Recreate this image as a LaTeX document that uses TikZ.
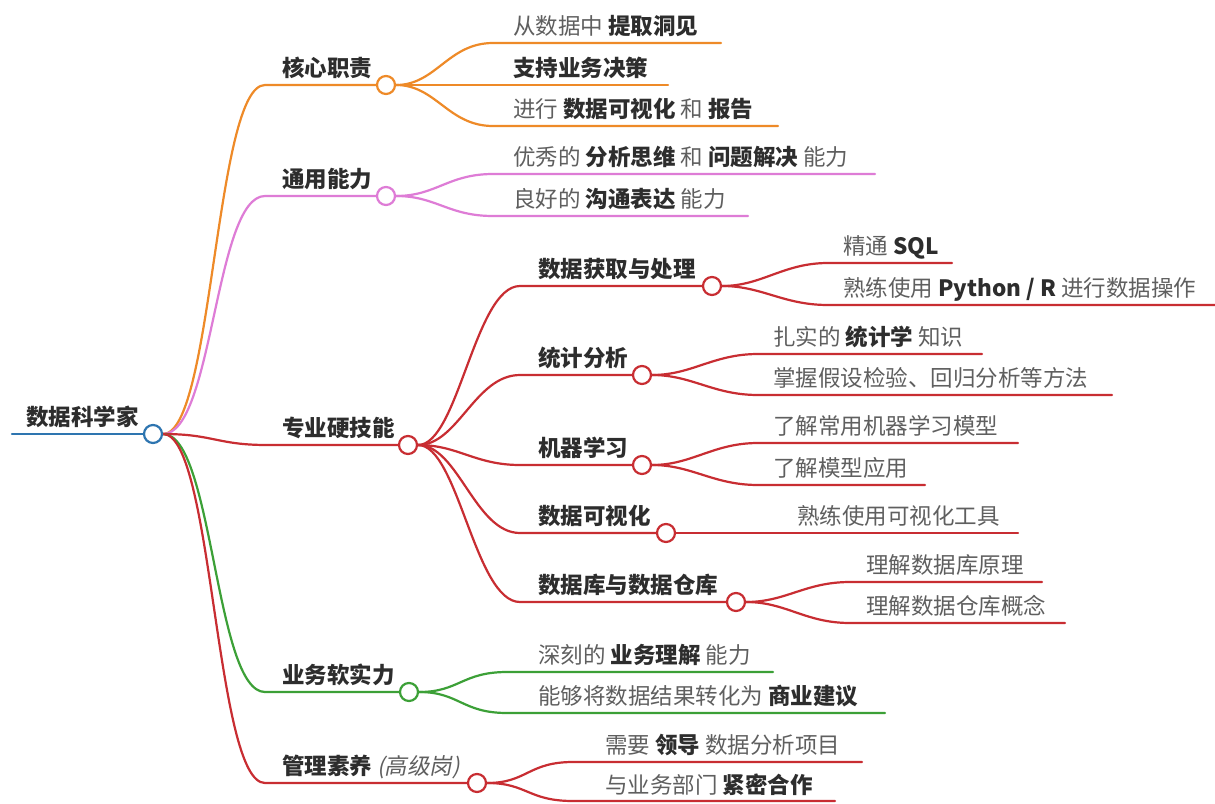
\documentclass[tikz,border=0pt]{standalone}
\usepackage{fontspec}
\setmainfont{Noto Sans CJK SC}
\newfontfamily\slantf{Noto Sans CJK SC}[FakeSlant=0.2]
\usetikzlibrary{backgrounds}
\definecolor{cblue}{RGB}{46,117,176}
\definecolor{corange}{RGB}{238,138,40}
\definecolor{cpink}{RGB}{222,124,214}
\definecolor{cred}{RGB}{200,45,50}
\definecolor{cgreen}{RGB}{60,160,55}
\definecolor{cdark}{RGB}{45,45,45}
\definecolor{cnorm}{RGB}{95,95,95}
\newcommand\strongtxt[1]{{\bfseries\color{cdark}#1}}
\tikzset{
  lbl/.style={anchor=base west, inner sep=0pt, font=\fontsize{22.5pt}{27pt}\selectfont, text=cnorm},
  ttl/.style={lbl, font=\fontsize{22.5pt}{27pt}\selectfont\bfseries, text=cdark},
  dot/.style={circle, draw=#1, fill=white, line width=2.2pt, minimum size=18pt, inner sep=0pt},
  br/.style={draw=#1, line width=2.2pt, line cap=round},
}
\begin{document}
\begin{tikzpicture}[x=1pt,y=-1pt]
\useasboundingbox (0,0) rectangle (1215,803);

% root
\node[dot=cblue] (root) at (153,434) {};
\coordinate (r0) at (12,434);
\node[ttl] (rootlbl) at (26,425) {数据科学家};

% level 1
\node[dot=corange] (n1) at (386,85) {};
\coordinate (h1) at (265,85);
\node[ttl] (t1) at (282,76) {核心职责};
\node[dot=cpink] (n2) at (386,196) {};
\coordinate (h2) at (265,196);
\node[ttl] (t2) at (282,187) {通用能力};
\node[dot=cred] (n3) at (408,445) {};
\coordinate (h3) at (267,445);
\node[ttl] (t3) at (282,436) {专业硬技能};
\node[dot=cgreen] (n4) at (409,692) {};
\coordinate (h4) at (265,692);
\node[ttl] (t4) at (282,683) {业务软实力};
\node[dot=cred] (n5) at (477,783) {};
\coordinate (h5) at (265,783);
\node[ttl] (t5) at (282,774) {管理素养 {\slantf\mdseries\color{cnorm}(高级岗)}};

% n1 children
\coordinate (h11) at (493,43); \coordinate (e11) at (721,43);
\node[lbl] (t11) at (513,34) {从数据中 \strongtxt{提取洞见}};
\coordinate (e12) at (668,85);
\node[lbl] (t12) at (513,76) {\strongtxt{支持业务决策}};
\coordinate (h13) at (493,126); \coordinate (e13) at (778,126);
\node[lbl] (t13) at (513,117) {进行 \strongtxt{数据可视化} 和 \strongtxt{报告}};

% n2 children
\coordinate (h21) at (493,174); \coordinate (e21) at (875,174);
\node[lbl] (t21) at (513,165) {优秀的 \strongtxt{分析思维} 和 \strongtxt{问题解决} 能力};
\coordinate (h22) at (493,216); \coordinate (e22) at (748,216);
\node[lbl] (t22) at (513,207) {良好的 \strongtxt{沟通表达} 能力};

% n3 subs
\node[dot=cred] (s1) at (712,286) {}; \coordinate (hs1) at (520,286);
\node[ttl] (ts1) at (538,277) {数据获取与处理};
\node[dot=cred] (s2) at (642,375) {}; \coordinate (hs2) at (520,375);
\node[ttl] (ts2) at (538,366) {统计分析};
\node[dot=cred] (s3) at (642,465) {}; \coordinate (hs3) at (520,465);
\node[ttl] (ts3) at (538,456) {机器学习};
\node[dot=cred] (s4) at (666,533) {}; \coordinate (hs4) at (520,533);
\node[ttl] (ts4) at (538,524) {数据可视化};
\node[dot=cred] (s5) at (736,602) {}; \coordinate (hs5) at (520,602);
\node[ttl] (ts5) at (538,593) {数据库与数据仓库};

% s1 children
\coordinate (h1a) at (828,263); \coordinate (e1a) at (952,263);
\node[lbl] (t1a) at (843,254) {精通 \strongtxt{SQL}};
\coordinate (h1b) at (828,305); \coordinate (e1b) at (1215,305);
\node[lbl] (t1b) at (843,296) {熟练使用 \strongtxt{Python / R} 进行数据操作};
% s2 children
\coordinate (h2a) at (758,354); \coordinate (e2a) at (982,354);
\node[lbl] (t2a) at (773,345) {扎实的 \strongtxt{统计学} 知识};
\coordinate (h2b) at (758,395); \coordinate (e2b) at (1112,395);
\node[lbl] (t2b) at (773,386) {掌握假设检验、回归分析等方法};
% s3 children
\coordinate (h3a) at (758,443); \coordinate (e3a) at (1018,443);
\node[lbl] (t3a) at (773,434) {了解常用机器学习模型};
\coordinate (h3b) at (758,485); \coordinate (e3b) at (925,485);
\node[lbl] (t3b) at (773,476) {了解模型应用};
% s4 child
\coordinate (e4a) at (1018,533);
\node[lbl] (t4a) at (797,524) {熟练使用可视化工具};
% s5 children
\coordinate (h5a) at (850,582); \coordinate (e5a) at (1042,582);
\node[lbl] (t5a) at (866,573) {理解数据库原理};
\coordinate (h5b) at (850,623); \coordinate (e5b) at (1065,623);
\node[lbl] (t5b) at (866,614) {理解数据仓库概念};

% n4 children
\coordinate (h41) at (507,672); \coordinate (e41) at (773,672);
\node[lbl] (t41) at (538,663) {深刻的 \strongtxt{业务理解} 能力};
\coordinate (h42) at (507,713); \coordinate (e42) at (885,713);
\node[lbl] (t42) at (538,704) {能够将数据结果转化为 \strongtxt{商业建议}};

% n5 children
\coordinate (h51) at (573,762); \coordinate (e51) at (862,762);
\node[lbl] (t51) at (605,753) {需要 \strongtxt{领导} 数据分析项目};
\coordinate (h52) at (573,801); \coordinate (e52) at (835,801);
\node[lbl] (t52) at (605,793) {与业务部门 \strongtxt{紧密合作}};

\begin{pgfonlayer}{background}
\fill[white] (0,0) rectangle (1215,803);
\draw[br=cblue] (r0) -- (root.west);
\draw[br=corange] (root.east) .. controls +(50,0) and +(-50,0) .. (h1) -- (n1.west);
\draw[br=cpink] (root.east) .. controls +(50,0) and +(-50,0) .. (h2) -- (n2.west);
\draw[br=cred] (root.east) .. controls +(50,0) and +(-50,0) .. (h3) -- (n3.west);
\draw[br=cgreen] (root.east) .. controls +(50,0) and +(-50,0) .. (h4) -- (n4.west);
\draw[br=cred] (root.east) .. controls +(50,0) and +(-50,0) .. (h5) -- (n5.west);

\draw[br=corange] (n1.east) .. controls +(40,0) and +(-45,0) .. (h11) -- (e11);
\draw[br=corange] (n1.east) -- (e12);
\draw[br=corange] (n1.east) .. controls +(40,0) and +(-45,0) .. (h13) -- (e13);
\draw[br=cpink] (n2.east) .. controls +(40,0) and +(-45,0) .. (h21) -- (e21);
\draw[br=cpink] (n2.east) .. controls +(40,0) and +(-45,0) .. (h22) -- (e22);

\foreach \s in {s1,s2,s3,s4,s5}{
  \draw[br=cred] (n3.east) .. controls +(40,0) and +(-45,0) .. (h\s) -- (\s.west);
}
\draw[br=cred] (s1.east) .. controls +(40,0) and +(-45,0) .. (h1a) -- (e1a);
\draw[br=cred] (s1.east) .. controls +(40,0) and +(-45,0) .. (h1b) -- (e1b);
\draw[br=cred] (s2.east) .. controls +(40,0) and +(-45,0) .. (h2a) -- (e2a);
\draw[br=cred] (s2.east) .. controls +(40,0) and +(-45,0) .. (h2b) -- (e2b);
\draw[br=cred] (s3.east) .. controls +(40,0) and +(-45,0) .. (h3a) -- (e3a);
\draw[br=cred] (s3.east) .. controls +(40,0) and +(-45,0) .. (h3b) -- (e3b);
\draw[br=cred] (s4.east) -- (e4a);
\draw[br=cred] (s5.east) .. controls +(40,0) and +(-45,0) .. (h5a) -- (e5a);
\draw[br=cred] (s5.east) .. controls +(40,0) and +(-45,0) .. (h5b) -- (e5b);

\draw[br=cgreen] (n4.east) .. controls +(40,0) and +(-45,0) .. (h41) -- (e41);
\draw[br=cgreen] (n4.east) .. controls +(40,0) and +(-45,0) .. (h42) -- (e42);
\draw[br=cred] (n5.east) .. controls +(40,0) and +(-45,0) .. (h51) -- (e51);
\draw[br=cred] (n5.east) .. controls +(40,0) and +(-45,0) .. (h52) -- (e52);
\end{pgfonlayer}
\end{tikzpicture}
\end{document}
